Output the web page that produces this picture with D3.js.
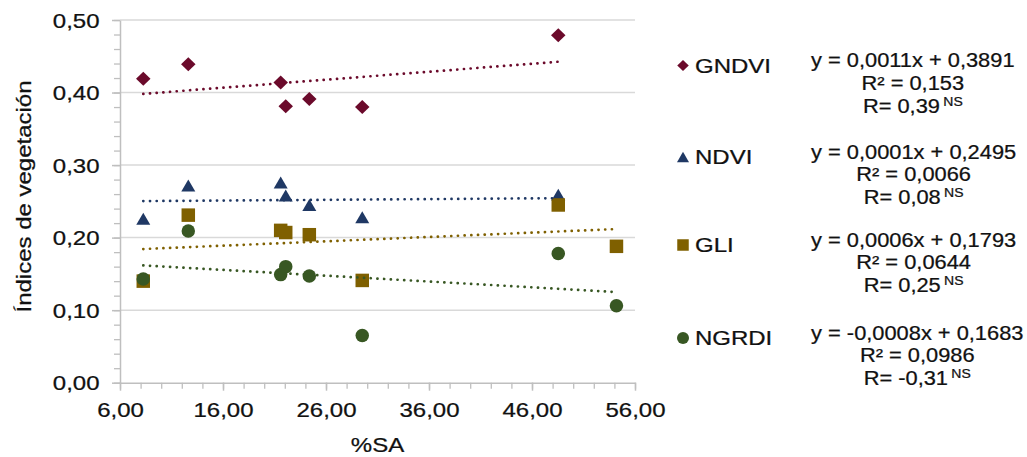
<!DOCTYPE html>
<html lang="es">
<head>
<meta charset="utf-8">
<script src="https://d3js.org/d3.v7.min.js"></script>
<style>
  body { margin: 0; background: #fff; }
  text { font-family: "Liberation Sans", Arial, sans-serif; fill: #111; stroke: #111; stroke-width: 0.25; }
</style>
</head>
<body>
<svg id="chart" width="1027" height="457"></svg>
<script>
// data
var seriesNames = ["GNDVI", "NDVI", "GLI", "NGRDI"];
var seriesColors = ["#6b0a2b", "#1f3864", "#7f6000", "#385723"];
var seriesShapes = ["diamond", "triangle", "square", "circle"];

var xSA = [8.26, 12.63, 21.6, 22.09, 24.38, 29.52, 48.55, 54.2];
var gndvi = [0.419, 0.439, 0.414, 0.381, 0.391, 0.380, 0.479];
var ndvi  = [0.226, 0.272, 0.276, 0.258, 0.245, 0.228, 0.259];
var gli   = [0.140, 0.231, 0.210, 0.207, 0.204, 0.141, 0.245, 0.188];
var ngrdi = [0.143, 0.209, 0.149, 0.160, 0.147, 0.065, 0.178, 0.106];

var slopes = [0.0011, 0.0001, 0.0006, -0.0008];
var intercepts = [0.3891, 0.2495, 0.1793, 0.1683];
var r2Labels = ["0,153", "0,0066", "0,0644", "0,0986"];
var rLabels = ["0,39", "0,08", "0,25", "-0,31"];

var yTicks = [0, 0.1, 0.2, 0.3, 0.4, 0.5];
var xTicks = [6, 16, 26, 36, 46, 56];

var allValues = [gndvi, ndvi, gli, ngrdi];

var FONT = 20;
var SX = 1.2;   // the picture text runs a bit wide

var svg = d3.select("#chart");

var x = d3.scaleLinear().domain([6, 56]).range([120, 635]);
var y = d3.scaleLinear().domain([0, 0.5]).range([382.7, 20]);

function fmt(spec) {
  return function(v) { return d3.format(spec)(v).replace(".", ",").replace("\u2212", "-"); };
}
var fmt2 = fmt(".2f");
var fmt4 = fmt(".4f");

// gridlines
svg.append("g").selectAll("line")
  .data(yTicks.slice(1))
  .join("line")
    .attr("x1", x(6)).attr("x2", x(56))
    .attr("y1", d => y(d)).attr("y2", d => y(d))
    .attr("stroke", "#d9d9d9").attr("stroke-width", 1.5);

// minor ticks
var yMinor = d3.range(0, 0.501, 0.02);
var xMinor = d3.range(6, 56.01, 2);
svg.append("g")
  .attr("transform", "translate(" + x(6) + ",0)")
  .call(d3.axisLeft(y).tickValues(yMinor).tickSize(6).tickFormat(""))
  .call(g => g.selectAll("line").attr("stroke", "#bfbfbf").attr("stroke-width", 1.3))
  .call(g => g.select(".domain").remove());
svg.append("g")
  .attr("transform", "translate(0," + y(0) + ")")
  .call(d3.axisBottom(x).tickValues(xMinor).tickSize(6).tickFormat(""))
  .call(g => g.selectAll("line").attr("stroke", "#bfbfbf").attr("stroke-width", 1.3))
  .call(g => g.select(".domain").remove());

// major axes
var yAxis = svg.append("g")
  .attr("transform", "translate(" + x(6) + ",0)")
  .call(d3.axisLeft(y).tickValues(yTicks).tickSize(8).tickSizeOuter(0).tickFormat(fmt2));
var xAxis = svg.append("g")
  .attr("transform", "translate(0," + y(0) + ")")
  .call(d3.axisBottom(x).tickValues(xTicks).tickSize(8).tickSizeOuter(0).tickFormat(fmt2));

[yAxis, xAxis].forEach(function(g) {
  g.attr("font-family", null).attr("font-size", null);
  g.select(".domain").attr("stroke", "#bfbfbf").attr("stroke-width", 1.5);
  g.selectAll(".tick line").attr("stroke", "#bfbfbf").attr("stroke-width", 1.5);
  g.selectAll(".tick text").attr("font-size", FONT).attr("fill", null);
});
yAxis.selectAll(".tick text")
  .attr("x", 0).attr("dy", "0.35em")
  .attr("transform", "translate(-20.5,0) scale(" + SX + ",1)");
xAxis.selectAll(".tick text")
  .attr("y", 0).attr("dy", 0)
  .attr("transform", "translate(0,34.5) scale(" + SX + ",1)");

// axis titles
svg.append("text")
  .attr("transform", "translate(" + x(31) + ",452) scale(" + SX + ",1)")
  .attr("text-anchor", "middle")
  .attr("font-size", FONT)
  .text("%SA");

svg.append("text")
  .attr("transform", "translate(31,196.5) rotate(-90) scale(" + SX + ",1)")
  .attr("text-anchor", "middle")
  .attr("font-size", FONT)
  .text("Índices de vegetación");

// marker shapes
function markerPath(shape, w, h) {
  var a = w / 2, b = h / 2;
  if (shape === "diamond") return "M0," + (-b) + "L" + a + ",0L0," + b + "L" + (-a) + ",0Z";
  if (shape === "triangle") return "M0," + (-b) + "L" + a + "," + b + "L" + (-a) + "," + b + "Z";
  if (shape === "square") return "M" + (-a) + "," + (-b) + "H" + a + "V" + b + "H" + (-a) + "Z";
  return "M" + (-a) + ",0A" + a + "," + b + " 0 1,0 " + a + ",0A" + a + "," + b + " 0 1,0 " + (-a) + ",0Z";
}
var markerSize = {
  diamond: [14.5, 14],
  triangle: [14, 12],
  square: [13.5, 13.5],
  circle: [13.5, 13.5]
};

// points
seriesNames.forEach(function(name, i) {
  var pts = allValues[i].map(function(v, j) { return [xSA[j], v]; });
  var sz = markerSize[seriesShapes[i]];
  svg.append("g").selectAll("path")
    .data(pts)
    .join("path")
      .attr("transform", d => "translate(" + x(d[0]) + "," + y(d[1]) + ")")
      .attr("d", markerPath(seriesShapes[i], sz[0], sz[1]))
      .attr("fill", seriesColors[i]);
});

// trendlines (dotted)
seriesNames.forEach(function(name, i) {
  var xs = xSA.slice(0, allValues[i].length);
  var x0 = d3.min(xs), x1 = d3.max(xs);
  svg.append("line")
    .attr("x1", x(x0)).attr("y1", y(slopes[i] * x0 + intercepts[i]))
    .attr("x2", x(x1)).attr("y2", y(slopes[i] * x1 + intercepts[i]))
    .attr("stroke", seriesColors[i])
    .attr("stroke-width", 2.7)
    .attr("stroke-linecap", "round")
    .attr("stroke-dasharray", "0.1,6.6");
});

// legend + equations
var legendY = [65.5, 157, 245, 338];
var legendSize = {
  diamond: [11.5, 11],
  triangle: [12, 10.5],
  square: [11.5, 11.5],
  circle: [12, 12]
};
var EQ_FONT = 19.5, EQ_SX = 1.12;
seriesNames.forEach(function(name, i) {
  var ly = legendY[i];
  var sz = legendSize[seriesShapes[i]];
  svg.append("path")
    .attr("transform", "translate(683," + ly + ")")
    .attr("d", markerPath(seriesShapes[i], sz[0], sz[1]))
    .attr("fill", seriesColors[i]);
  svg.append("text")
    .attr("transform", "translate(695," + (ly + 7) + ") scale(" + SX + ",1)")
    .attr("font-size", FONT)
    .text(name);

  var eq = "y = " + fmt4(slopes[i]) + "x + " + fmt4(intercepts[i]);
  var block = svg.append("g")
    .attr("font-size", EQ_FONT)
    .attr("text-anchor", "middle");
  var lines = [];
  lines.push(block.append("text").text(eq));
  lines.push(block.append("text").text("R² = " + r2Labels[i]));
  var rt = block.append("text");
  rt.append("tspan").text("R= " + rLabels[i]);
  rt.append("tspan").attr("dx", 3).attr("dy", -7).attr("font-size", 12.5).text("NS");
  lines.push(rt);

  var maxW = d3.max(lines, t => t.node().getComputedTextLength()) * EQ_SX;
  var cx = 811 + maxW / 2;
  lines.forEach(function(t, k) {
    var by = ly - 5.5 + k * 22.8 + 7;
    t.attr("transform", "translate(" + cx + "," + by + ") scale(" + EQ_SX + ",1)");
  });
});
</script>
</body>
</html>
